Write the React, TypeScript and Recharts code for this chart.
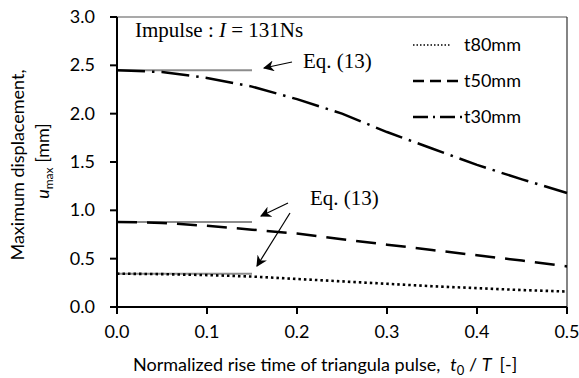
import { LineChart, Line, XAxis, YAxis, ReferenceLine } from 'recharts';

// normalized rise time t0/T
const riseTime = [0, 0.05, 0.1, 0.15, 0.2, 0.25, 0.3, 0.35, 0.4, 0.45, 0.5];
const t80 = [0.345, 0.34, 0.33, 0.315, 0.29, 0.265, 0.24, 0.215, 0.195, 0.175, 0.16];
const t50 = [0.88, 0.87, 0.84, 0.8, 0.76, 0.7, 0.645, 0.59, 0.535, 0.48, 0.42];
const t30 = [2.45, 2.43, 2.37, 2.28, 2.15, 2.0, 1.81, 1.64, 1.47, 1.32, 1.18];

// Eq. (13) impulse solution, drawn from 0 to 0.15
const eqRange = [0, 0.15];
const eqValues = [0.345, 0.88, 2.45];

const xTicks = [0, 0.1, 0.2, 0.3, 0.4, 0.5];
const yTicks = [0, 0.5, 1.0, 1.5, 2.0, 2.5, 3.0];

const data = riseTime.map((x, i) => ({ x, t80: t80[i], t50: t50[i], t30: t30[i] }));

const legend = [
  { name: 't80mm', dash: '1.5 2', width: 1.5, x2: 450 },
  { name: 't50mm', dash: '11 6', width: 2.5, x2: 462 },
  { name: 't30mm', dash: '15 5 2 5', width: 2.5, x2: 462 },
];

const font = 'Lato, "Open Sans", sans-serif';
const serif = '"Liberation Serif", "DejaVu Serif", serif';

const YTick = (p: any) => (
  <text x={117 - 22} y={p.y + 6} textAnchor="end" fontSize={18} fontFamily={font} fill="#000">
    {Number(p.payload.value).toFixed(1)}
  </text>
);

export default function App() {
  return (
    <div style={{ position: 'absolute', left: 0, top: 0, width: 579, height: 378, background: '#fff' }}>
      <LineChart width={579} height={378} data={data} margin={{ top: 17, right: 12, left: 55, bottom: 21 }}>
        <XAxis
          dataKey="x"
          type="number"
          domain={[0, 0.5]}
          ticks={xTicks}
          tickFormatter={(v) => v.toFixed(1)}
          stroke="#000"
          strokeWidth={2}
          tickSize={7}
          tickMargin={11}
          tick={{ fill: '#000', fontSize: 18, fontFamily: font }}
          height={50}
        />
        <YAxis
          type="number"
          domain={[0, 3]}
          ticks={yTicks}
          stroke="#000"
          strokeWidth={2}
          tickSize={7}
          tick={YTick}
          width={62}
        />
        <ReferenceLine y={3} stroke="#555" strokeWidth={1.2} />
        <ReferenceLine x={0.5} stroke="#333" strokeWidth={1.2} />
        {eqValues.map((v, i) => (
          <Line
            key={'eq' + i}
            data={eqRange.map((x) => ({ x, eq: v }))}
            dataKey="eq"
            stroke="#8c8c8c"
            strokeWidth={2}
            dot={false}
            isAnimationActive={false}
          />
        ))}
        <Line dataKey="t80" stroke="#000" strokeWidth={2.6} strokeDasharray="2.5 3" dot={false} isAnimationActive={false} />
        <Line dataKey="t50" stroke="#000" strokeWidth={2.5} strokeDasharray="20 10" dot={false} isAnimationActive={false} />
        <Line dataKey="t30" stroke="#000" strokeWidth={2.5} strokeDasharray="28 7 2.5 7" dot={false} isAnimationActive={false} />
      </LineChart>
      <svg width={579} height={378} style={{ position: 'absolute', left: 0, top: 0, pointerEvents: 'none', whiteSpace: 'pre' }}>
        <defs>
          <marker id="ah" viewBox="0 0 10 10" refX="9" refY="5" markerWidth="11" markerHeight="11" markerUnits="userSpaceOnUse" orient="auto-start-reverse">
            <path d="M0,0 L10,5 L0,10 L3,5 z" fill="#000" />
          </marker>
        </defs>
        <text x={135} y={37} fontFamily={serif} fontSize={21}>
          Impulse : <tspan fontStyle="italic">I</tspan> = 131Ns
        </text>
        <text x={303} y={68} fontFamily={serif} fontSize={21}>Eq. (13)</text>
        <line x1={292} y1={62} x2={264} y2={68} stroke="#000" strokeWidth={1.2} markerEnd="url(#ah)" />
        <text x={310} y={205} fontFamily={serif} fontSize={21}>Eq. (13)</text>
        <line x1={288} y1={203} x2={261} y2={216} stroke="#000" strokeWidth={1.2} markerEnd="url(#ah)" />
        <line x1={290} y1={213} x2={257} y2={266} stroke="#000" strokeWidth={1.2} markerEnd="url(#ah)" />
        {legend.map((l, i) => (
          <g key={l.name}>
            <line x1={413} y1={45 + i * 36} x2={l.x2} y2={45 + i * 36} stroke="#000" strokeWidth={l.width} strokeDasharray={l.dash} />
            <text x={464} y={51 + i * 36} fontFamily={font} fontSize={18}>{l.name}</text>
          </g>
        ))}
        <text transform="translate(24,165) rotate(-90)" textAnchor="middle" fontFamily={font} fontSize={18}>
          Maximum displacement,
        </text>
        <text transform="translate(49,161) rotate(-90)" textAnchor="middle" fontFamily={font} fontSize={18}>
          <tspan fontStyle="italic">u</tspan>
          <tspan fontSize={12} dy={4}>max</tspan>
          <tspan dy={-4}> [mm]</tspan>
        </text>
        <text x={133} y={371} fontFamily={font} fontSize={18}>
          Normalized rise time of triangula pulse,
          <tspan dx={10} fontStyle="italic">t</tspan>
          <tspan fontSize={13} dy={4}>0</tspan>
          <tspan dy={-4}> / </tspan>
          <tspan fontStyle="italic">T</tspan>
          <tspan dx={8}>[-]</tspan>
        </text>
      </svg>
    </div>
  );
}
